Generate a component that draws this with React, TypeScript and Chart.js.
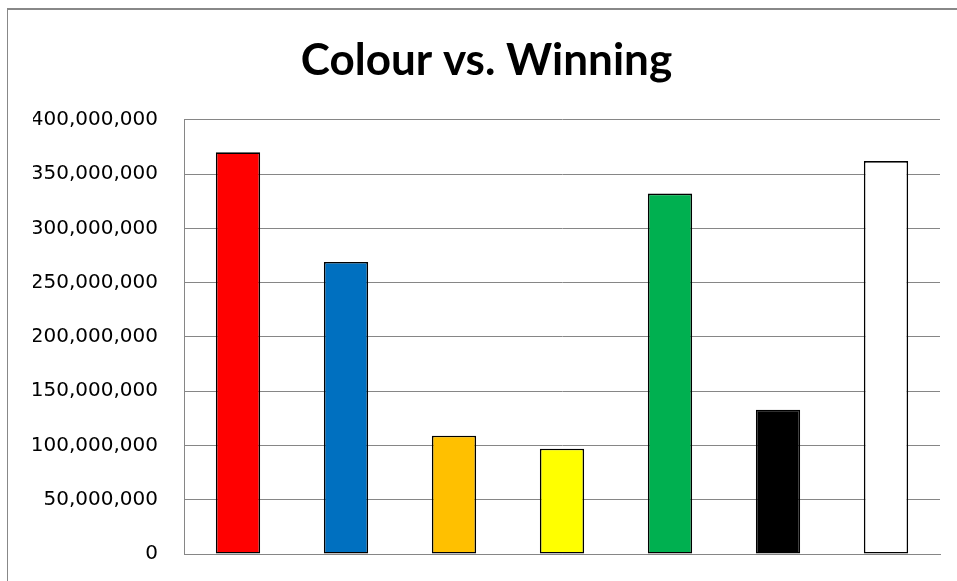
import React, { useEffect, useRef } from "react";
import { Chart, registerables } from "chart.js";

Chart.register(...registerables);

const chartTitle = "Colour vs. Winning";
const categories = ["Red", "Blue", "Orange", "Yellow", "Green", "Black", "White"];
const winnings = [370000000, 269000000, 109000000, 97000000, 332000000, 133000000, 362000000];
const barColours = ["#FF0000", "#0070C0", "#FFC000", "#FFFF00", "#00B050", "#000000", "#FFFFFF"];
const yMin = 0;
const yMax = 400000000;
const yStep = 50000000;

export default function App() {
  const canvasRef = useRef<HTMLCanvasElement | null>(null);

  useEffect(() => {
    if (!canvasRef.current) return;
    const chart = new Chart(canvasRef.current, {
      type: "bar",
      data: {
        labels: categories,
        datasets: [
          {
            data: winnings,
            backgroundColor: barColours,
            borderColor: "#000000",
            borderWidth: 1.6,
            borderSkipped: false,
            barPercentage: 0.41,
            categoryPercentage: 1,
          },
        ],
      },
      options: {
        animation: false,
        responsive: false,
        maintainAspectRatio: false,
        layout: { padding: { left: 33, right: 17, top: 0, bottom: 27 } },
        plugins: {
          legend: { display: false },
          tooltip: { enabled: false },
          title: {
            display: true,
            text: chartTitle,
            color: "#000000",
            font: { family: "Lato", size: 44, weight: "bold", lineHeight: 1.2 },
            padding: { top: 34, bottom: 33 },
          },
        },
        scales: {
          x: {
            grid: { display: false },
            ticks: { display: false },
            border: { display: true, color: "#868686", width: 1 },
            afterFit: (scale: any) => {
              scale.height = 0;
            },
          },
          y: {
            min: yMin,
            max: yMax,
            ticks: {
              stepSize: yStep,
              color: "#000000",
              padding: 26,
              font: { family: "DejaVu Sans", size: 20 },
              callback: (v: any) => Number(v).toLocaleString("en-US"),
            },
            grid: { color: "#868686", lineWidth: 1, drawTicks: false },
            border: { display: true, color: "#868686", width: 1 },
            afterFit: (scale: any) => {
              scale.width = 151;
              scale.paddingTop = 12;
              scale.paddingBottom = 12;
            },
          },
        },
      },
    });
    return () => chart.destroy();
  }, []);

  return (
    <div style={{ position: "fixed", left: 0, top: 0, width: 957, height: 581, background: "#ffffff", overflow: "hidden" }}>
      <div
        style={{
          position: "absolute",
          left: 7,
          top: 8,
          width: 1000,
          height: 700,
          borderTop: "2px solid #888888",
          borderLeft: "1px solid #888888",
        }}
      />
      <canvas ref={canvasRef} width={957} height={581} style={{ position: "absolute", left: 0, top: 0 }} />
    </div>
  );
}
